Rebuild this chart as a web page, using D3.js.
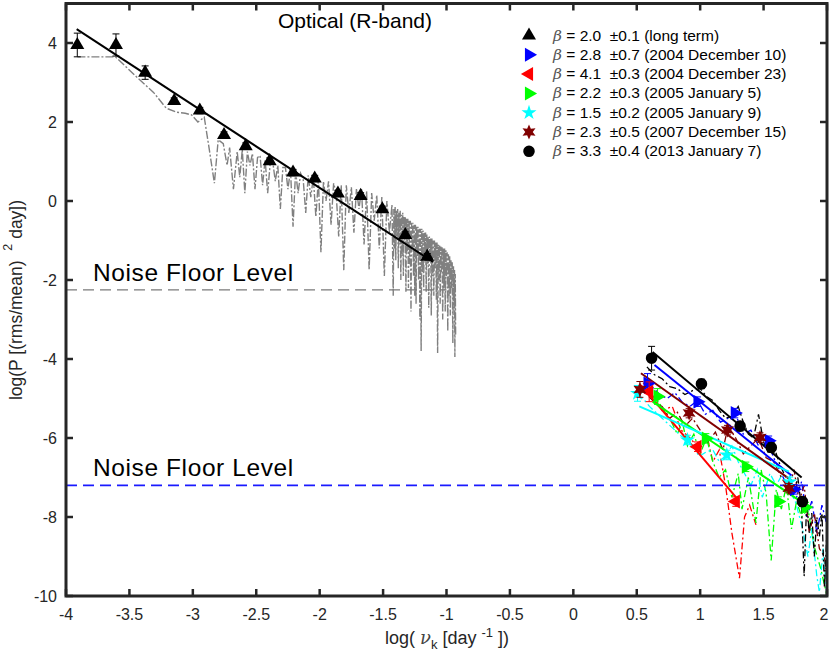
<!DOCTYPE html>
<html><head><meta charset="utf-8">
<script src="https://cdn.jsdelivr.net/npm/d3@7"></script>
<style>
body{margin:0;background:#fff}
text{font-family:"Liberation Sans",Arial,Helvetica,sans-serif;white-space:pre}
</style>
</head><body>
<svg id="chart" width="830" height="658"></svg>
<script>
// ---------------- DATA ----------------
const xTickValues = [-4,-3.5,-3,-2.5,-2,-1.5,-1,-0.5,0,0.5,1,1.5,2];
const yTickValues = [-10,-8,-6,-4,-2,0,2,4];
const titleText = "Optical (R-band)";
const noiseLabel = "Noise Floor Level";

// long-term periodogram (log nu, log P)
const ltNu = [-3.91,-3.61,-3.43,-3.31,-3.21,-3.13,-3.06,-3.01,-2.96,-2.91,-2.87,-2.83,-2.80,-2.76,-2.73,-2.71,-2.68,-2.65,-2.63,-2.61,-2.59,-2.57,-2.55,-2.53,-2.51,-2.49,-2.47,-2.45,-2.43,-2.41,-2.39,-2.37,-2.35,-2.33,-2.31,-2.29,-2.27,-2.25,-2.23,-2.21,-2.19,-2.17,-2.15,-2.13,-2.11,-2.09,-2.07,-2.05,-2.03,-2.01,-1.99,-1.97,-1.95,-1.93,-1.91,-1.89,-1.87,-1.85,-1.83,-1.81,-1.79,-1.77,-1.75,-1.73,-1.71,-1.69,-1.67,-1.65,-1.63,-1.61,-1.59,-1.57,-1.55,-1.53,-1.51,-1.49,-1.47,-1.45,-1.43,
  -1.42,-1.415,-1.41,-1.405,-1.40,-1.395,-1.39,-1.385,-1.38,-1.375,-1.37,-1.365,-1.36,-1.355,-1.35,-1.345,-1.34,-1.335,-1.33,-1.325,-1.32,-1.315,-1.31,-1.305,-1.30,-1.295,-1.29,-1.285,-1.28,-1.275,-1.27,-1.265,-1.26,-1.255,-1.25,-1.245,-1.24,-1.235,-1.23,-1.225,-1.22,-1.215,-1.21,-1.205,
  -1.20,-1.195,-1.19,-1.185,-1.18,-1.175,-1.17,-1.165,-1.16,-1.155,-1.15,-1.145,-1.14,-1.135,-1.13,-1.125,-1.12,-1.115,-1.11,-1.105,-1.10,-1.095,-1.09,-1.085,-1.08,-1.075,-1.07,-1.065,-1.06,-1.055,-1.05,-1.045,-1.04,-1.035,-1.03,-1.025,-1.02,-1.015,-1.01,-1.005,-1.00,-0.995,-0.99,-0.985,-0.98,-0.975,-0.97,-0.965,-0.96,-0.955,-0.95,-0.945,-0.94,-0.937,-0.934,-0.931,-0.928];
const ltPow = [3.65,3.65,3.1,2.75,2.35,2.25,2.22,2.18,2.0,2.12,1.3,0.45,1.55,1.45,0.9,1.35,0.3,1.25,0.6,1.3,0.2,1.25,0.9,1.2,0.3,1.1,1.15,0.4,1.05,0.2,0.95,1.0,0.5,0.9,-0.2,0.85,0.85,0.3,0.8,-0.65,0.75,0.2,0.7,0.55,-0.3,0.65,0.1,0.6,-0.4,0.55,-1.3,0.5,0.0,0.5,-0.6,0.45,0.2,-0.9,0.4,-1.75,0.4,-0.3,0.35,-0.8,0.3,-0.2,0.3,-1.1,0.25,-1.75,0.2,-0.5,0.15,-1.2,0.1,-1.9,0.0,-0.8,-0.1,
  -2.4,-0.2,-1.2,-0.15,-1.5,-0.25,-0.9,-0.2,-1.7,-0.3,-1.1,-0.25,-2.0,-0.35,-1.4,-0.3,-1.9,-0.4,-1.0,-0.4,-2.3,-0.45,-1.3,-0.45,-2.2,-0.5,-1.6,-0.5,-2.8,-0.55,-1.2,-0.55,-1.9,-0.6,-2.4,-0.6,-2.6,-0.65,-1.4,-0.65,-2.0,-0.7,-3.0,-0.7,
  -3.8,-0.7,-1.8,-0.75,-2.2,-0.8,-1.4,-0.8,-2.3,-0.85,-1.6,-0.9,-2.7,-0.9,-1.5,-0.95,-2.9,-0.95,-1.9,-1.0,-2.4,-1.0,-1.7,-1.05,-2.5,-1.05,-3.85,-1.1,-2.0,-1.1,-2.6,-1.15,-1.8,-1.15,-3.0,-1.2,-2.2,-1.2,-2.8,-1.25,-1.9,-1.3,-3.3,-1.35,-2.4,-1.4,-2.9,-1.5,-2.2,-1.55,-3.6,-1.65,-2.7,-1.75,-3.95,-1.85,-3.4];

// long-term binned points
const ltBinNu  = [-3.911,-3.606,-3.376,-3.147,-2.945,-2.754,-2.583,-2.394,-2.210,-2.039,-1.856,-1.677,-1.506,-1.325,-1.152];
const ltBinPow = [3.95,3.95,3.25,2.53,2.29,1.67,1.39,1.01,0.72,0.57,0.19,0.13,-0.21,-0.86,-1.41];
const ltBinErr = [0.30,0.28,0.17,0.08,0.08,0.08,0.08,0.08,0.08,0.08,0.08,0.08,0.08,0.08,0.08];
const ltFitNu  = [-3.916,-1.107];
const ltFitPow = [4.35,-1.54];

const noiseOptical = -2.25;
const noiseOpticalNu = [-4,-1.0];
const noiseNight = -7.2;

// 2004 December 10 (blue)
const dec10Nu  = [0.56,0.62,0.68,0.74,0.80,0.86,0.92,0.98,1.04,1.10,1.16,1.22,1.28,1.34,1.40,1.46,1.52,1.58,1.64,1.70,1.76,1.80,1.84,1.88,1.92,1.96,2.0];
const dec10Pow = [-4.55,-4.7,-4.9,-5.0,-4.85,-5.1,-5.2,-5.05,-5.4,-5.3,-5.6,-5.5,-5.4,-5.9,-5.8,-6.2,-6.0,-6.5,-6.9,-7.3,-7.5,-7.1,-8.0,-7.6,-8.4,-7.7,-8.2];
const dec10BinNu  = [0.585,0.979,1.273,1.54,1.74];
const dec10BinPow = [-4.62,-5.08,-5.37,-6.07,-7.3];
const dec10BinErr = [0.25,0.12,0.12,0.12,0.12];
const dec10FitNu  = [0.64,1.72];
const dec10FitPow = [-4.15,-6.95];

// 2004 December 23 (red)
const dec23Nu  = [0.55,0.62,0.70,0.78,0.85,0.92,1.0,1.05,1.10,1.15,1.20,1.25,1.31,1.35,1.39,1.44];
const dec23Pow = [-4.6,-4.9,-5.3,-5.2,-5.8,-6.0,-6.3,-5.9,-6.6,-6.3,-7.2,-8.4,-9.55,-8.0,-7.7,-8.2];
const dec23BinNu  = [0.598,0.979,1.281];
const dec23BinPow = [-4.83,-6.22,-7.61];
const dec23BinErr = [0.25,0.12,0.12];
const dec23FitNu  = [0.533,1.28];
const dec23FitPow = [-4.66,-7.49];

// 2005 January 5 (green)
const jan5Nu  = [0.64,0.70,0.76,0.82,0.86,0.90,0.95,1.0,1.05,1.10,1.15,1.20,1.25,1.30,1.33,1.38,1.44,1.48,1.52,1.56,1.60,1.64,1.68,1.72,1.76,1.80,1.85,1.90,1.95,2.0];
const jan5Pow = [-4.95,-5.25,-5.5,-5.9,-5.6,-6.2,-5.9,-6.4,-6.0,-6.6,-7.0,-6.8,-7.5,-6.9,-7.8,-7.0,-8.15,-6.8,-7.4,-9.1,-7.3,-7.8,-7.2,-8.3,-7.6,-8.0,-7.8,-8.75,-9.3,-10.0];
const jan5BinNu  = [0.664,1.045,1.36,1.616,1.83];
const jan5BinPow = [-4.95,-6.01,-6.73,-7.61,-7.75];
const jan5BinErr = [0.2,0.12,0.12,0.12,0.12];
const jan5FitNu  = [0.625,1.86];
const jan5FitPow = [-5.08,-7.75];

// 2005 January 9 (cyan)
const jan9Nu  = [0.50,0.55,0.60,0.65,0.70,0.75,0.80,0.85,0.90,0.95,0.99,1.05,1.10,1.15,1.20,1.25,1.30,1.35,1.40,1.45,1.49,1.55,1.60,1.65,1.70,1.75,1.80,1.85,1.88,1.92,1.94,1.97,2.0];
const jan9Pow = [-4.9,-5.0,-5.2,-5.35,-5.5,-5.65,-5.8,-5.95,-6.05,-6.2,-6.47,-6.35,-6.3,-6.6,-6.45,-6.2,-6.6,-6.9,-7.2,-6.8,-7.5,-6.9,-7.2,-6.9,-7.3,-7.6,-8.2,-9.0,-8.3,-9.5,-9.9,-8.8,-10.0];
const jan9BinNu  = [0.506,0.90,1.21,1.706];
const jan9BinPow = [-4.87,-6.05,-6.43,-7.11];
const jan9BinErr = [0.2,0.12,0.12,0.12];
const jan9FitNu  = [0.52,1.70];
const jan9FitPow = [-5.2,-6.85];

// 2007 December 15 (dark red)
const dec15Nu  = [0.52,0.58,0.64,0.70,0.76,0.82,0.88,0.94,1.0,1.06,1.12,1.18,1.22,1.28,1.34,1.40,1.46,1.52,1.58,1.64,1.70,1.74,1.78,1.82,1.86,1.90,1.94,1.98,2.0];
const dec15Pow = [-4.65,-4.9,-5.1,-5.2,-5.5,-5.35,-5.7,-5.5,-5.8,-6.1,-5.85,-6.3,-5.7,-6.0,-6.4,-6.2,-6.0,-6.5,-6.6,-7.0,-7.3,-6.8,-7.6,-7.2,-8.4,-7.9,-8.8,-9.0,-9.6];
const dec15BinNu  = [0.525,0.913,1.215,1.472,1.70];
const dec15BinPow = [-4.77,-5.37,-5.80,-5.99,-7.27];
const dec15BinErr = [0.2,0.12,0.12,0.12,0.12];
const dec15FitNu  = [0.533,1.714];
const dec15FitPow = [-4.36,-7.06];

// 2013 January 7 (black)
const jan7Nu  = [0.58,0.64,0.70,0.76,0.82,0.88,0.94,1.0,1.05,1.10,1.15,1.20,1.25,1.30,1.34,1.38,1.42,1.46,1.50,1.54,1.58,1.62,1.66,1.70,1.74,1.77,1.80,1.82,1.84,1.86,1.88,1.90,1.92,1.94,1.96,1.98,2.0];
const jan7Pow = [-4.2,-4.4,-4.5,-4.7,-4.75,-4.9,-4.8,-4.75,-4.95,-5.05,-5.3,-5.5,-5.45,-5.2,-5.6,-5.9,-6.0,-5.4,-6.1,-6.4,-6.2,-6.6,-6.9,-7.1,-7.4,-7.0,-7.8,-9.5,-7.6,-8.4,-7.9,-9.0,-8.0,-8.5,-7.9,-9.8,-8.3];
const jan7BinNu  = [0.617,1.010,1.315,1.561,1.806];
const jan7BinPow = [-3.98,-4.63,-5.70,-6.24,-7.61];
const jan7BinErr = [0.3,0.12,0.12,0.12,0.12];
const jan7FitNu  = [0.625,1.80];
const jan7FitPow = [-3.82,-7.0];

const legendBeta = ["2.0","2.8","4.1","2.2","1.5","2.3","3.3"];
const legendErr  = ["0.1","0.7","0.3","0.3","0.2","0.5","0.4"];
const legendNote = ["long term","2004 December 10","2004 December 23","2005 January 5","2005 January 9","2007 December 15","2013 January 7"];

// ---------------- DRAWING ----------------
const svg = d3.select("#chart");
const m = {l:66, r:827, t:3.5, b:596};
const x = d3.scaleLinear().domain([-4,2]).range([m.l,m.r]);
const y = d3.scaleLinear().domain([-10,5]).range([m.b,m.t]);
const axisCol = "#262626";

svg.append("defs").append("clipPath").attr("id","clip")
  .append("rect").attr("x",m.l).attr("y",m.t).attr("width",m.r-m.l).attr("height",m.b-m.t);
const plot = svg.append("g").attr("clip-path","url(#clip)");

const zipXY = (xs,ys) => xs.map((v,i)=>[v,ys[i]]);
const line = d3.line().x(d=>x(d[0])).y(d=>y(d[1]));

// shapes
const triUp = d3.symbol().type(d3.symbolTriangle).size(85)();
const circ = d3.symbol().type(d3.symbolCircle).size(105)();
const star5 = d3.symbol().type(d3.symbolStar).size(70)();
function hexagram(R){
  const r = R*0.5, pts=[];
  for(let i=0;i<12;i++){
    const a = -Math.PI/2 + i*Math.PI/6;
    const rr = i%2===0?R:r;
    pts.push([rr*Math.cos(a), rr*Math.sin(a)]);
  }
  return "M"+pts.map(p=>p[0].toFixed(2)+","+p[1].toFixed(2)).join("L")+"Z";
}
const hex = hexagram(7.5);

const nights = [
  {nu:dec10Nu,pow:dec10Pow,bn:dec10BinNu,bp:dec10BinPow,be:dec10BinErr,fn:dec10FitNu,fp:dec10FitPow,col:"#0000ff",shape:triUp,rot:90},
  {nu:dec23Nu,pow:dec23Pow,bn:dec23BinNu,bp:dec23BinPow,be:dec23BinErr,fn:dec23FitNu,fp:dec23FitPow,col:"#ff0000",shape:triUp,rot:-90},
  {nu:jan5Nu,pow:jan5Pow,bn:jan5BinNu,bp:jan5BinPow,be:jan5BinErr,fn:jan5FitNu,fp:jan5FitPow,col:"#00ff00",shape:triUp,rot:90},
  {nu:jan9Nu,pow:jan9Pow,bn:jan9BinNu,bp:jan9BinPow,be:jan9BinErr,fn:jan9FitNu,fp:jan9FitPow,col:"#00ffff",shape:star5,rot:0},
  {nu:dec15Nu,pow:dec15Pow,bn:dec15BinNu,bp:dec15BinPow,be:dec15BinErr,fn:dec15FitNu,fp:dec15FitPow,col:"#800000",shape:hex,rot:0},
  {nu:jan7Nu,pow:jan7Pow,bn:jan7BinNu,bp:jan7BinPow,be:jan7BinErr,fn:jan7FitNu,fp:jan7FitPow,col:"#000000",shape:circ,rot:0}
];

// long-term periodogram
plot.append("path").datum(zipXY(ltNu,ltPow)).attr("d",line)
  .attr("fill","none").attr("stroke","#808080").attr("stroke-width",1.4)
  .attr("stroke-dasharray","8,2,2,2");

// noise floor (optical)
plot.append("path").datum([[noiseOpticalNu[0],noiseOptical],[noiseOpticalNu[1],noiseOptical]]).attr("d",line)
  .attr("stroke","#7a7a7a").attr("stroke-width",1.3).attr("stroke-dasharray","11,6");

// long-term fit
plot.append("path").datum(zipXY(ltFitNu,ltFitPow)).attr("d",line)
  .attr("stroke","#000").attr("stroke-width",2);

function errBars(g, xs, ys, es, col){
  xs.forEach((v,i)=>{
    const cx=x(v), y1=y(ys[i]+es[i]), y2=y(ys[i]-es[i]);
    g.append("line").attr("x1",cx).attr("x2",cx).attr("y1",y1).attr("y2",y2).attr("stroke",col).attr("stroke-width",1);
    [y1,y2].forEach(yy=>g.append("line").attr("x1",cx-3.5).attr("x2",cx+3.5).attr("y1",yy).attr("y2",yy).attr("stroke",col).attr("stroke-width",1));
  });
}
errBars(plot, ltBinNu, ltBinPow, ltBinErr, "#000");
plot.selectAll("path.lt").data(zipXY(ltBinNu,ltBinPow)).join("path").attr("class","lt")
  .attr("d",triUp).attr("transform",d=>`translate(${x(d[0])},${y(d[1])})`).attr("fill","#000");

// nights: periodograms
nights.forEach(n=>{
  plot.append("path").datum(zipXY(n.nu,n.pow)).attr("d",line)
    .attr("fill","none").attr("stroke",n.col).attr("stroke-width",1.3).attr("stroke-dasharray","7,3,2,3");
});
// noise floor night
plot.append("path").datum([[-4,noiseNight],[2,noiseNight]]).attr("d",line)
  .attr("stroke","#1a1aff").attr("stroke-width",1.6).attr("stroke-dasharray","11,6");
// fits
nights.forEach(n=>{
  plot.append("path").datum(zipXY(n.fn,n.fp)).attr("d",line)
    .attr("stroke",n.col).attr("stroke-width",2);
});
// error bars + markers
nights.forEach(n=>{
  errBars(plot, n.bn, n.bp, n.be, n.col);
  plot.selectAll(null).data(zipXY(n.bn,n.bp)).join("path")
    .attr("d",n.shape).attr("fill",n.col)
    .attr("transform",d=>`translate(${x(d[0])},${y(d[1])}) rotate(${n.rot})`);
});

// ---------------- AXES ----------------
const fmt = d => String(d);
const tickLen = 7;
const ax = svg.append("g");
xTickValues.forEach(v=>{
  ax.append("line").attr("x1",x(v)).attr("x2",x(v)).attr("y1",m.b).attr("y2",m.b-tickLen).attr("stroke",axisCol).attr("stroke-width",2.5);
  ax.append("line").attr("x1",x(v)).attr("x2",x(v)).attr("y1",m.t).attr("y2",m.t+tickLen).attr("stroke",axisCol).attr("stroke-width",2.5);
  ax.append("text").attr("x",Math.min(x(v),824)).attr("y",620).attr("text-anchor","middle")
    .attr("font-size",16).attr("fill",axisCol).text(fmt(v));
});
yTickValues.forEach(v=>{
  ax.append("line").attr("x1",m.l).attr("x2",m.l+tickLen).attr("y1",y(v)).attr("y2",y(v)).attr("stroke",axisCol).attr("stroke-width",2.5);
  ax.append("line").attr("x1",m.r).attr("x2",m.r-tickLen).attr("y1",y(v)).attr("y2",y(v)).attr("stroke",axisCol).attr("stroke-width",2.5);
  ax.append("text").attr("x",57).attr("y",y(v)+5.5).attr("text-anchor","end")
    .attr("font-size",16).attr("fill",axisCol).text(fmt(v));
});
ax.append("rect").attr("x",m.l).attr("y",m.t).attr("width",m.r-m.l).attr("height",m.b-m.t)
  .attr("fill","none").attr("stroke",axisCol).attr("stroke-width",3);

// axis labels
const xl = svg.append("text").attr("x",447).attr("y",644).attr("text-anchor","middle").attr("font-size",18).attr("fill",axisCol);
xl.append("tspan").text("log( ");
xl.append("tspan").attr("font-style","italic").attr("font-family","DejaVu Serif, serif").attr("fill","#444").text("ν");
xl.append("tspan").attr("font-size",13).attr("dy",5).text("k");
xl.append("tspan").attr("dy",-5).text(" [day ");
xl.append("tspan").attr("font-size",13).attr("dy",-7).text("-1");
xl.append("tspan").attr("dy",7).text(" ])");

const yl = svg.append("text").attr("transform","translate(22,300) rotate(-90)").attr("text-anchor","middle").attr("font-size",17.5).attr("fill",axisCol);
yl.append("tspan").text("log(P [(rms/mean)  ");
yl.append("tspan").attr("font-size",12.5).attr("dy",-10).text("2");
yl.append("tspan").attr("dy",10).text(" day])");

// title
svg.append("text").attr("x",355).attr("y",28).attr("text-anchor","middle").attr("font-size",21).attr("fill","#000").text(titleText);

// noise labels
svg.append("text").attr("x",93).attr("y",281).attr("font-size",24.5).attr("letter-spacing",0.6).attr("fill","#000").text(noiseLabel);
svg.append("text").attr("x",93).attr("y",476).attr("font-size",24.5).attr("letter-spacing",0.6).attr("fill","#000").text(noiseLabel);

// ---------------- LEGEND ----------------
const legShapes = [
  {shape:triUp,rot:0,col:"#000"},
  {shape:triUp,rot:90,col:"#0000ff"},
  {shape:triUp,rot:-90,col:"#ff0000"},
  {shape:triUp,rot:90,col:"#00ff00"},
  {shape:star5,rot:0,col:"#00ffff"},
  {shape:hex,rot:0,col:"#800000"},
  {shape:circ,rot:0,col:"#000"}
];
const lg = svg.append("g");
legendBeta.forEach((b,i)=>{
  const yy = 35.5 + i*19.3;
  const s = legShapes[i];
  lg.append("path").attr("d",s.shape).attr("fill",s.col).attr("transform",`translate(529,${yy}) rotate(${s.rot})`);
  const t = lg.append("text").attr("x",553).attr("y",yy+5).attr("font-size",15.5).attr("fill","#000");
  t.append("tspan").attr("font-style","italic").attr("font-family","DejaVu Serif, serif").attr("fill","#555").text("β");
  t.append("tspan").text(` = ${b}  ±${legendErr[i]} (${legendNote[i]})`);
});
</script>
</body></html>
